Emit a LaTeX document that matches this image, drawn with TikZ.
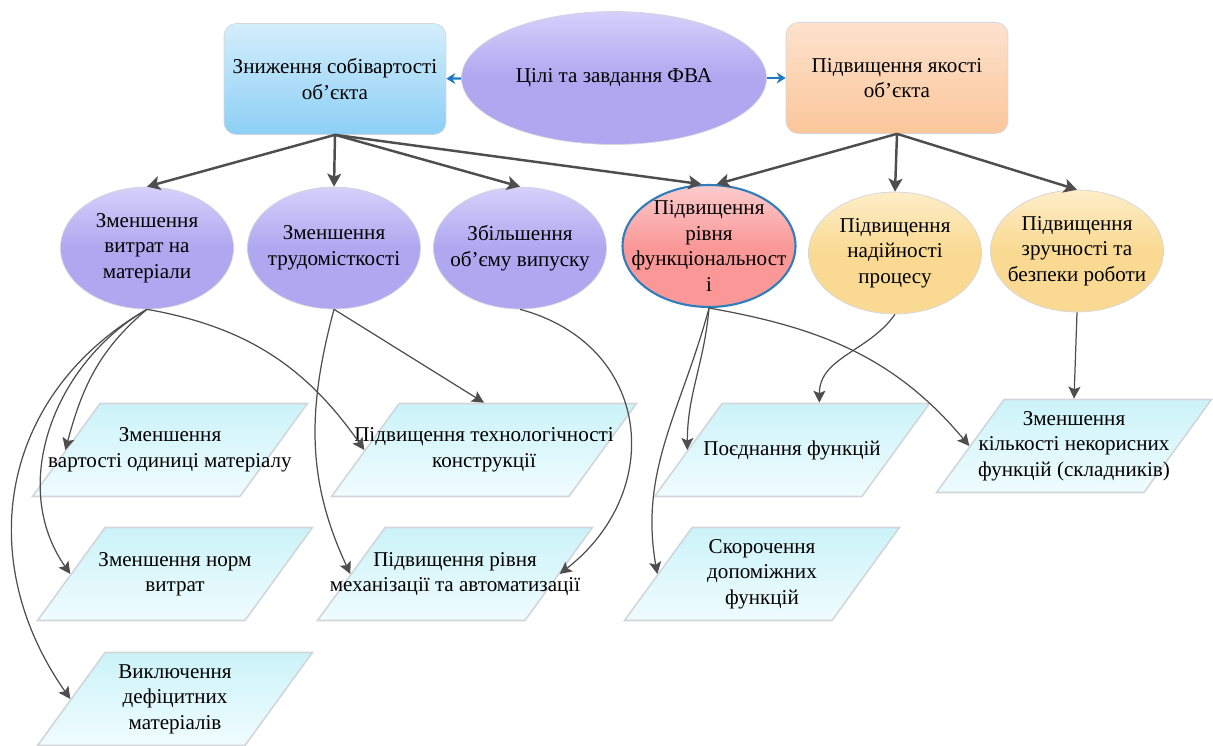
\documentclass[tikz,border=0pt]{standalone}
\usepackage{fontspec}
\setmainfont[Ligatures=TeX]{Liberation Serif}
\newfontfamily\schemefont[Ligatures=TeX]{Liberation Serif}
\usetikzlibrary{shapes.geometric, arrows.meta}
\definecolor{cArrow}{RGB}{78,78,78}
\definecolor{cLink}{RGB}{31,120,194}
\definecolor{cBlueTop}{RGB}{212,238,252}
\definecolor{cBlueBot}{RGB}{140,207,246}
\definecolor{cPeachTop}{RGB}{253,226,206}
\definecolor{cPeachBot}{RGB}{251,198,154}
\definecolor{cLilacTop}{RGB}{214,208,250}
\definecolor{cLilacBot}{RGB}{176,167,240}
\definecolor{cRoseTop}{RGB}{252,204,204}
\definecolor{cRoseBot}{RGB}{250,152,152}
\definecolor{cRoseEdge}{RGB}{46,126,190}
\definecolor{cSandTop}{RGB}{253,237,200}
\definecolor{cSandBot}{RGB}{250,218,146}
\definecolor{cAquaTop}{RGB}{203,243,249}
\definecolor{cAquaBot}{RGB}{240,252,254}
\definecolor{cEdge}{RGB}{210,214,218}
\tikzset{
	goal/.style     ={ellipse, minimum width=6.1cm, minimum height=2.66cm, inner sep=0pt, align=center, draw=cEdge, top color=cLilacTop, bottom color=cLilacBot, middle color=cLilacBot},
	aim/.style      ={rectangle, rounded corners=7pt, minimum width=4.44cm, minimum height=2.22cm, align=center, draw=cEdge},
	% negative inner sep keeps all the ellipses the same size
	way/.style      ={ellipse, minimum width=3.46cm, minimum height=2.44cm, inner xsep=-0.35cm, inner ysep=-0.25cm, align=center, draw=cEdge, top color=cLilacTop, bottom color=cLilacBot, middle color=cLilacBot},
	funcway/.style  ={draw=cRoseEdge, line width=1.2pt, top color=cRoseTop, bottom color=cRoseBot, middle color=cRoseBot},
	sandway/.style  ={top color=cSandTop, bottom color=cSandBot, middle color=cSandBot},
	% empty parallelogram, the text goes in as a centred label
	measure/.style  ={trapezium, trapezium left angle=54, trapezium right angle=126, trapezium stretches body, inner xsep=0pt, inner ysep=0.93cm, minimum width=5.5cm, draw=cEdge, line width=0.9pt, top color=cAquaTop, bottom color=cAquaBot},
	mtext/.style    ={align=center},
	goalarrow/.style={draw=cLink, line width=1.3pt, -{Stealth[length=1.8mm, width=2.2mm]}},
	mainarrow/.style={draw=cArrow, line width=1.4pt, -{Stealth[length=2.6mm, width=2.8mm, inset=0.6mm]}},
	linkarrow/.style={draw=cArrow, line width=0.7pt, -{Stealth[length=2.4mm, width=2.4mm, inset=0.5mm]}},
}
\begin{document}
\begin{tikzpicture}[x=0.02cm, y=0.02cm, font=\schemefont\fontsize{12}{14.5}\selectfont]
	\useasboundingbox (0,0) rectangle (1213,-746);
	\node[goal] (goal) at (614,-78) {Цілі та завдання ФВА};
	\node[aim, top color=cBlueTop, bottom color=cBlueBot] (cost) at (335,-79) {Зниження собівартості\\об'єкта};
	\node[aim, top color=cPeachTop, bottom color=cPeachBot] (quality) at (897,-78) {Підвищення якості\\об'єкта};
	\draw[goalarrow] (goal) -- (cost);
	\draw[goalarrow] (goal) -- (quality);

	% second level
	\node[way] (mat) at (147,-248) {Зменшення\\витрат на\\матеріали};
	\node[way] (lab) at (334,-248) {Зменшення\\трудомісткості};
	\node[way] (vol) at (520,-248) {Збільшення\\об'єму випуску};
	\node[way, funcway] (func) at (709,-246) {Підвищення\\рівня\\функціональност\\і};
	\node[way, sandway] (rel) at (895,-253) {Підвищення\\надійності\\процесу};
	\node[way, sandway] (safe) at (1077,-251) {Підвищення\\зручності та\\безпеки роботи};
	\foreach \n in {mat, lab, vol}
		\draw[mainarrow] (cost.south) -- (\n.north);
	\draw[mainarrow] (cost.south) -- (func.97);
	\draw[mainarrow] (quality.south) -- (func.83);
	\foreach \n in {rel, safe}
		\draw[mainarrow] (quality.south) -- (\n.north);

	% measures
	\node[measure, label={[mtext]center:{Зменшення\\вартості одиниці матеріалу}}] (m1) at (170,-450) {};
	\node[measure, label={[mtext]center:{Зменшення норм\\витрат}}] (m2) at (175,-574) {};
	\node[measure, label={[mtext]center:{Виключення\\дефіцитних\\матеріалів}}] (m3) at (175,-699) {};
	\node[measure, minimum width=6.1cm, label={[mtext]center:{Підвищення технологічності\\конструкції}}] (m4) at (484,-450) {};
	\node[measure, label={[mtext]center:{Підвищення рівня\\механізації та автоматизації}}] (m5) at (455,-574) {};
	\node[measure, label={[mtext]center:{Поєднання функцій}}] (m6) at (792,-450) {};
	\node[measure, label={[mtext]center:{Скорочення\\допоміжних\\функцій}}] (m7) at (762,-574) {};
	\node[measure, label={[mtext]center:{Зменшення\\кількості некорисних\\функцій (складників)}}] (m8) at (1074,-446) {};

	\foreach \m/\o/\i/\l in {m1/-140/75/1, m2/-150/125/1, m3/-150/125/1.1}
		\draw[linkarrow] (mat.south) to[out=\o, in=\i, looseness=\l] (\m.left side);
	\draw[linkarrow] (mat.south) to[out=-10, in=125] (m4.left side);
	\draw[linkarrow] (lab.south) -- (m4.north);
	\draw[linkarrow] (lab.south) to[out=-105, in=115] (m5.left side);
	\draw[linkarrow] (vol.south) to[out=-15, in=38, looseness=1.3] (m5.right side);
	\draw[linkarrow] (func.south) to[out=-95, in=90] (m6.left side);
	\draw[linkarrow] (func.south) to[out=-105, in=100] (m7.left side);
	\draw[linkarrow] (func.south) to[out=-10, in=130] (m8.left side);
	\draw[linkarrow] (rel.south) to[out=-125, in=90] ([xshift=-0.14cm]m6.top side);
	\draw[linkarrow] (safe.south) -- (m8.north);
\end{tikzpicture}
\end{document}
